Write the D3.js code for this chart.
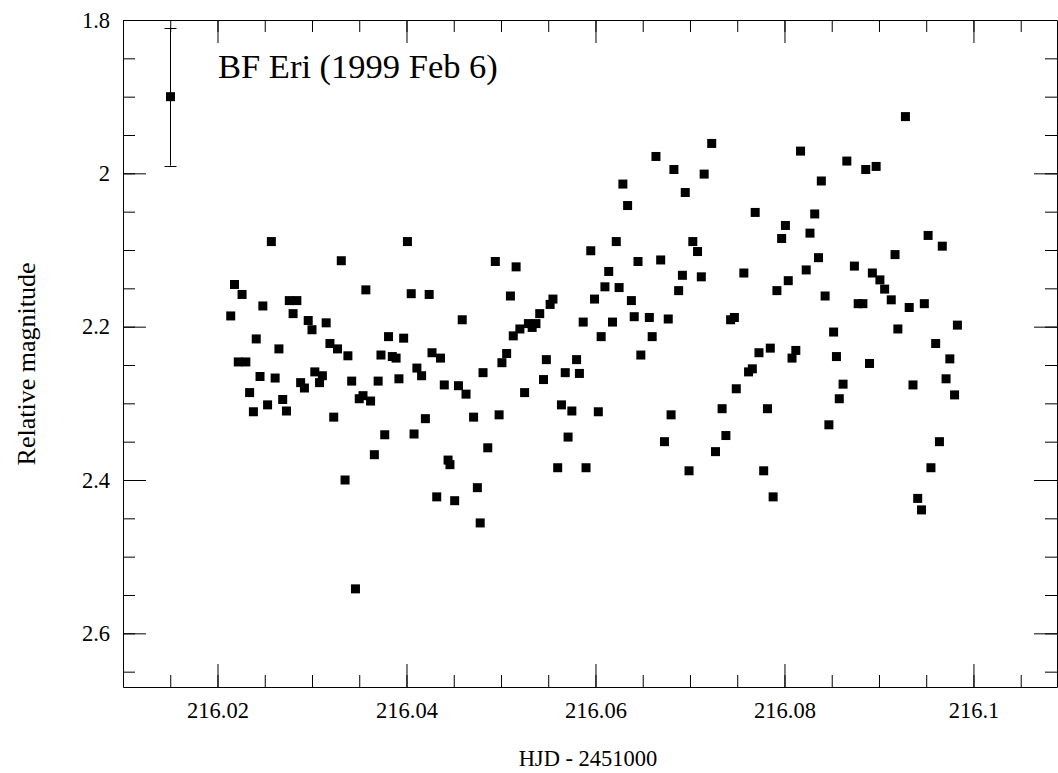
<!DOCTYPE html>
<html>
<head>
<meta charset="utf-8">
<script src="https://cdn.jsdelivr.net/npm/d3@7"></script>
<style>
    body { margin: 0; background: #fff; }
    svg { display: block; }
    svg text { font-family: "Liberation Serif", "Times New Roman", Times, serif; }
</style>
</head>
<body>
<div id="chart"></div>
<script>
// HJD - 2451000 of each observation
var hjd = [
    216.0214, 216.0218, 216.0222, 216.0226, 216.0230, 216.0234, 216.0238, 216.0241, 216.0245, 216.0248,
    216.0253, 216.0257, 216.0261, 216.0265, 216.0269, 216.0273, 216.0276, 216.0280, 216.0284, 216.0288,
    216.0292, 216.0296, 216.0300, 216.0303, 216.0308, 216.0311, 216.0315, 216.0319, 216.0323, 216.0327,
    216.0331, 216.0335, 216.0338, 216.0342, 216.0346, 216.0350, 216.0354, 216.0357, 216.0362, 216.0366,
    216.0370, 216.0373, 216.0377, 216.0381, 216.0385, 216.0389, 216.0392, 216.0397, 216.0401, 216.0405,
    216.0408, 216.0411, 216.0416, 216.0420, 216.0424, 216.0427, 216.0432, 216.0436, 216.0440, 216.0444,
    216.0446, 216.0451, 216.0455, 216.0459, 216.0463, 216.0471, 216.0475, 216.0478, 216.0481, 216.0486,
    216.0494, 216.0498, 216.0501, 216.0506, 216.0510, 216.0513, 216.0516, 216.0520, 216.0525, 216.0529,
    216.0533, 216.0537, 216.0541, 216.0545, 216.0548, 216.0552, 216.0555, 216.0560, 216.0564, 216.0568,
    216.0571, 216.0575, 216.0580, 216.0583, 216.0587, 216.0590, 216.0595, 216.0599, 216.0603, 216.0606,
    216.0610, 216.0614, 216.0618, 216.0622, 216.0625, 216.0629, 216.0634, 216.0638, 216.0641, 216.0645,
    216.0648, 216.0657, 216.0660, 216.0664, 216.0669, 216.0673, 216.0677, 216.0680, 216.0683, 216.0688,
    216.0692, 216.0695, 216.0699, 216.0703, 216.0708, 216.0712, 216.0715, 216.0723, 216.0727, 216.0734,
    216.0738, 216.0743, 216.0747, 216.0749, 216.0757, 216.0762, 216.0766, 216.0769, 216.0773, 216.0778,
    216.0782, 216.0785, 216.0788, 216.0792, 216.0797, 216.0801, 216.0804, 216.0808, 216.0812, 216.0817,
    216.0823, 216.0827, 216.0832, 216.0836, 216.0839, 216.0843, 216.0847, 216.0852, 216.0855, 216.0858,
    216.0862, 216.0866, 216.0874, 216.0878, 216.0883, 216.0886, 216.0890, 216.0893, 216.0897, 216.0901,
    216.0906, 216.0913, 216.0917, 216.0920, 216.0928, 216.0932, 216.0936, 216.0941, 216.0945, 216.0948,
    216.0952, 216.0955, 216.0960, 216.0964, 216.0967, 216.0971, 216.0975, 216.0980, 216.0983
];

// relative magnitude of each observation
var mag = [
    2.186, 2.145, 2.246, 2.158, 2.246, 2.286, 2.311, 2.216, 2.265, 2.173,
    2.302, 2.089, 2.267, 2.229, 2.295, 2.310, 2.166, 2.183, 2.166, 2.273,
    2.280, 2.192, 2.204, 2.259, 2.273, 2.264, 2.195, 2.222, 2.318, 2.229,
    2.114, 2.400, 2.238, 2.271, 2.542, 2.294, 2.290, 2.152, 2.297, 2.367,
    2.271, 2.237, 2.341, 2.213, 2.239, 2.241, 2.268, 2.215, 2.089, 2.157,
    2.340, 2.254, 2.264, 2.320, 2.158, 2.234, 2.422, 2.241, 2.276, 2.374,
    2.380, 2.427, 2.277, 2.191, 2.288, 2.318, 2.410, 2.456, 2.260, 2.358,
    2.115, 2.315, 2.247, 2.235, 2.160, 2.212, 2.122, 2.203, 2.286, 2.196,
    2.201, 2.196, 2.183, 2.269, 2.243, 2.171, 2.164, 2.384, 2.302, 2.260,
    2.344, 2.310, 2.243, 2.261, 2.194, 2.384, 2.101, 2.164, 2.311, 2.213,
    2.148, 2.128, 2.194, 2.089, 2.149, 2.014, 2.042, 2.166, 2.187, 2.115,
    2.237, 2.188, 2.213, 1.978, 2.113, 2.350, 2.190, 2.315, 1.995, 2.153,
    2.133, 2.025, 2.388, 2.089, 2.102, 2.135, 2.001, 1.961, 2.363, 2.307,
    2.342, 2.191, 2.188, 2.281, 2.130, 2.259, 2.255, 2.051, 2.234, 2.388,
    2.307, 2.228, 2.422, 2.153, 2.085, 2.068, 2.140, 2.241, 2.231, 1.971,
    2.126, 2.078, 2.053, 2.110, 2.010, 2.160, 2.328, 2.207, 2.239, 2.294,
    2.275, 1.984, 2.121, 2.170, 2.170, 1.995, 2.248, 2.130, 1.991, 2.139,
    2.151, 2.165, 2.106, 2.203, 1.926, 2.175, 2.276, 2.424, 2.439, 2.170,
    2.081, 2.384, 2.222, 2.350, 2.095, 2.268, 2.242, 2.289, 2.198
];

// typical error bar, drawn in the corner
var errHjd = [216.015];
var errMag = [1.9];
var errSize = [0.09];

var xMajorTicks = [216.02, 216.04, 216.06, 216.08, 216.1];
var yMajorTicks = [1.8, 2, 2.2, 2.4, 2.6];

var title = 'BF Eri (1999 Feb 6)';
var xTitle = 'HJD - 2451000';
var yTitle = 'Relative magnitude';

(function () {
    'use strict';

    var svgWidth = 1058;
    var svgHeight = 773;

    var plotLeft = 123;
    var plotRight = 1057;
    var plotTop = 20;
    var plotBottom = 687;

    var fontFamily = '"Liberation Serif", "Times New Roman", Times, serif';
    var tickFont = 22.5;
    var majorLen = 23;
    var minorLen = 12;
    var markSize = 9;

    var x = d3.scaleLinear()
        .domain([216.01, 216.10884])
        .range([plotLeft, plotRight]);

    var y = d3.scaleLinear()
        .domain([1.8, 2.67])
        .range([plotTop, plotBottom]);

    var xMinorTicks = d3.range(0, 21)
        .map(function (i) { return +(216.01 + i * 0.005).toFixed(3); })
        .filter(function (v) { return v > 216.01 && v < 216.108; });

    var yMinorTicks = d3.range(0, 18)
        .map(function (i) { return +(1.8 + i * 0.05).toFixed(2); })
        .filter(function (v) { return v < 2.67; });

    var svg = createSvg('#chart');

    drawAxes(svg);
    drawErrorBar(svg);
    drawPoints(svg);
    drawLabels(svg);

    function createSvg(element) {
        return d3.select(element)
            .append('svg')
            .attr('width', svgWidth)
            .attr('height', svgHeight);
    }

    function translate(tx, ty) {
        return 'translate(' + tx + ',' + ty + ')';
    }

    function formatTick(d) {
        return String(+d.toFixed(3));
    }

    function styleAxis(group, keepDomain) {
        group.attr('font-size', tickFont)
            .attr('font-family', null);
        group.selectAll('line').attr('stroke', '#000');
        group.selectAll('text')
            .attr('fill', '#000')
            .style('font-family', fontFamily);
        if (keepDomain) {
            group.select('.domain').attr('stroke', '#000');
        } else {
            group.select('.domain').remove();
        }
    }

    function addAxis(axis, tx, ty, keepDomain) {
        var g = svg.append('g')
            .attr('transform', translate(tx, ty))
            .call(axis);
        styleAxis(g, keepDomain);
        return g;
    }

    function drawAxes(svg) {
        // minor ticks, all four sides
        addAxis(d3.axisBottom(x).tickValues(xMinorTicks).tickSize(-minorLen).tickFormat(''), 0, plotBottom, false);
        addAxis(d3.axisTop(x).tickValues(xMinorTicks).tickSize(-minorLen).tickFormat(''), 0, plotTop, false);
        addAxis(d3.axisLeft(y).tickValues(yMinorTicks).tickSize(-minorLen).tickFormat(''), plotLeft, 0, false);
        addAxis(d3.axisRight(y).tickValues(yMinorTicks).tickSize(-minorLen).tickFormat(''), plotRight, 0, false);

        // major ticks and frame
        addAxis(d3.axisBottom(x).tickValues(xMajorTicks).tickSize(-majorLen).tickSizeOuter(0)
            .tickPadding(15).tickFormat(formatTick), 0, plotBottom, true);
        addAxis(d3.axisTop(x).tickValues(xMajorTicks).tickSize(-majorLen).tickSizeOuter(0)
            .tickFormat(''), 0, plotTop, true);
        addAxis(d3.axisLeft(y).tickValues(yMajorTicks).tickSize(-majorLen).tickSizeOuter(0)
            .tickPadding(13).tickFormat(formatTick), plotLeft, 0, true);
        addAxis(d3.axisRight(y).tickValues(yMajorTicks).tickSize(-majorLen).tickSizeOuter(0)
            .tickFormat(''), plotRight, 0, true);
    }

    function drawErrorBar(svg) {
        var group = svg.append('g').attr('stroke', '#000').attr('stroke-width', 1);
        errHjd.forEach(function (h, i) {
            var cx = Math.round(x(h)) + 0.5;
            var y0 = y(errMag[i] - errSize[i]);
            var y1 = y(errMag[i] + errSize[i]);
            group.append('line')
                .attr('x1', cx).attr('x2', cx)
                .attr('y1', y0).attr('y2', y1);
            [y0, y1].forEach(function (cy) {
                group.append('line')
                    .attr('x1', cx - 6).attr('x2', cx + 6)
                    .attr('y1', Math.round(cy) + 0.5).attr('y2', Math.round(cy) + 0.5);
            });
            svg.append('rect')
                .attr('x', cx - markSize / 2)
                .attr('y', y(errMag[i]) - markSize / 2)
                .attr('width', markSize)
                .attr('height', markSize)
                .attr('fill', '#000');
        });
    }

    function drawPoints(svg) {
        svg.append('g')
            .selectAll('rect')
            .data(d3.range(hjd.length))
            .enter()
            .append('rect')
            .attr('x', function (i) { return x(hjd[i]) - markSize / 2; })
            .attr('y', function (i) { return y(mag[i]) - markSize / 2; })
            .attr('width', markSize)
            .attr('height', markSize)
            .attr('fill', '#000');
    }

    function drawLabels(svg) {
        svg.append('text')
            .attr('x', 218)
            .attr('y', 78)
            .attr('font-size', 34.5)
            .attr('fill', '#000')
            .text(title);

        svg.append('text')
            .attr('x', 588)
            .attr('y', 766)
            .attr('text-anchor', 'middle')
            .attr('font-size', tickFont)
            .attr('fill', '#000')
            .text(xTitle);

        svg.append('text')
            .attr('transform', translate(35, 364) + ' rotate(-90)')
            .attr('text-anchor', 'middle')
            .attr('font-size', 26)
            .attr('fill', '#000')
            .text(yTitle);
    }

}());
</script>
</body>
</html>
